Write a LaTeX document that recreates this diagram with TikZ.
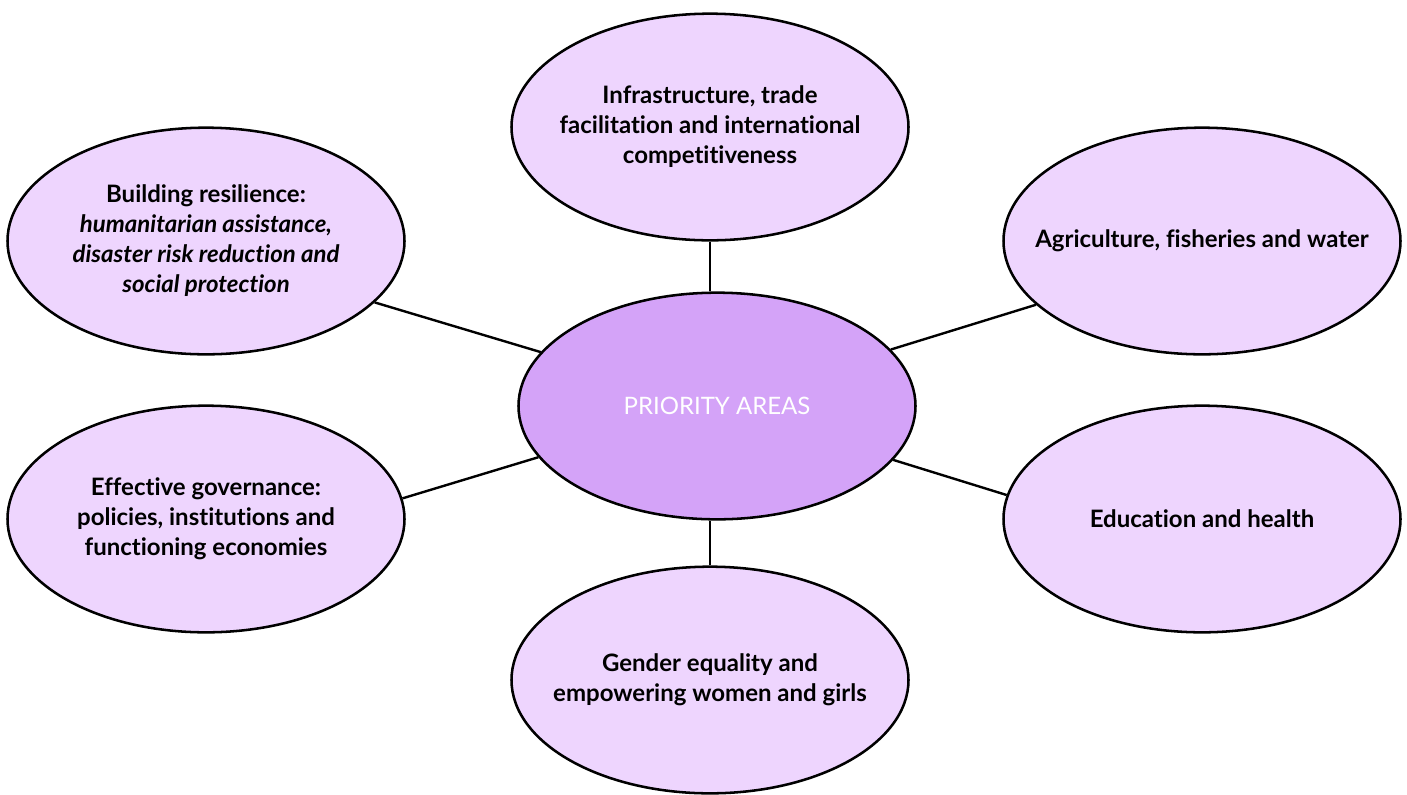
\documentclass[tikz,border=0pt]{standalone}
\usepackage{fontspec}
\setmainfont[Ligatures=NoCommon]{Lato}
\usetikzlibrary{shapes.geometric, positioning}

\definecolor{areaFill}{RGB}{238,213,254}
\definecolor{hubFill}{RGB}{212,163,248}

\tikzset{
  bubble/.style={ellipse, draw=black, line width=1.9pt, fill=areaFill,
    minimum width=297.75pt, minimum height=170pt, inner sep=0pt},
  hub/.style={bubble, fill=hubFill},
  bubbletext/.style={align=center, inner sep=0pt, font=\fontsize{18}{22.5}\selectfont\bfseries},
  spoke/.style={line width=1.8pt}
}

\begin{document}
\begin{tikzpicture}[x=0.75pt,y=0.75pt,yscale=-1,xscale=1]
\useasboundingbox (0,0) rectangle (1407,794);

% hub and the six areas around it
\node[hub] (prio) at (717,406) {};
\node[bubble] (infra) at (710,127) {};
\node[bubble] (resil) at (206,241) {};
\node[bubble] (agri) at (1202,241) {};
\node[bubble] (gov) at (206,519) {};
\node[bubble] (edu) at (1202,519) {};
\node[bubble] (gender) at (710,680) {};

% Text Node
\node[align=center, inner sep=0pt, text=white, font=\fontsize{18}{22.5}\selectfont] (prio-txt) at (prio) {PRIORITY AREAS};
% Text Node
\node[bubbletext] (infra-txt) at (infra) {Infrastructure, trade\\facilitation and international\\competitiveness};
% Text Node
\node[bubbletext] (resil-txt) at (resil) {Building resilience:\\\itshape humanitarian assistance,\\\itshape disaster risk reduction and\\\itshape social protection};
% Text Node
\node[bubbletext] (agri-txt) at (agri) {Agriculture, fisheries and water};
% Text Node
\node[bubbletext] (gov-txt) at (gov) {Effective governance:\\policies, institutions and\\functioning economies};
% Text Node
\node[bubbletext] (edu-txt) at (edu) {Education and health};
% Text Node
\node[bubbletext] (gender-txt) at (gender) {Gender equality and\\empowering women and girls};

% spokes
\draw[spoke] (infra.south) -- (infra.south |- prio.north);
\draw[spoke] (gender.north) -- (gender.north |- prio.south);
\draw[spoke] (prio.163) -- (resil.-20);
\draw[spoke] (prio.18) -- (agri.-159);
\draw[spoke] (prio.-164) -- (gov.6);
\draw[spoke] (prio.-17) -- (edu.173);

\end{tikzpicture}
\end{document}
